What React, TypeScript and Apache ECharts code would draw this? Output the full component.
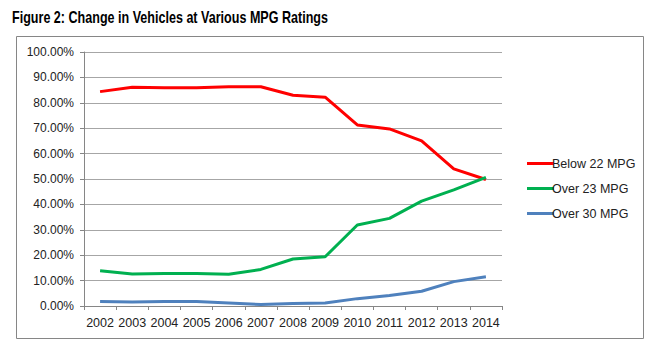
import React, { useEffect, useRef } from "react";
import * as echarts from "echarts";

const years = ["2002","2003","2004","2005","2006","2007","2008","2009","2010","2011","2012","2013","2014"];
const below22 = [0.844, 0.861, 0.859, 0.859, 0.863, 0.863, 0.830, 0.822, 0.713, 0.697, 0.650, 0.540, 0.498];
const over23 = [0.139, 0.126, 0.128, 0.128, 0.125, 0.144, 0.185, 0.194, 0.319, 0.345, 0.413, 0.457, 0.506];
const over30 = [0.018, 0.016, 0.018, 0.018, 0.012, 0.006, 0.010, 0.012, 0.029, 0.041, 0.058, 0.096, 0.115];
const seriesNames = ["Below 22 MPG", "Over 23 MPG", "Over 30 MPG"];
const colors = ["#ff0000", "#00b050", "#4f81bd"];

export default function App() {
  const ref = useRef<HTMLDivElement>(null);
  useEffect(() => {
    const chart = echarts.init(ref.current!, null, { renderer: "svg" });
    const font = "'Liberation Sans', Arial, sans-serif";
    const datas = [below22, over23, over30];
    chart.setOption({
      animation: false,
      backgroundColor: "#ffffff",
      graphic: [
        {
          type: "text",
          left: 12,
          top: 9,
          scaleX: 0.785,
          style: { text: "Figure 2: Change in Vehicles at Various MPG Ratings", font: "bold 16px " + font, fill: "#000" },
        },
        {
          type: "rect",
          shape: { x: 16.5, y: 36.5, width: 627, height: 302 },
          style: { fill: "none", stroke: "#868686", lineWidth: 1 },
        },
      ],
      grid: { left: 84, top: 52, right: 168, bottom: 49, containLabel: false },
      legend: {
        orient: "vertical",
        left: 522,
        top: 152,
        itemGap: 12,
        itemWidth: 27,
        itemHeight: 3,
        icon: "rect",
        textStyle: { fontFamily: font, fontSize: 12.5, color: "#222", padding: [0, 0, 0, -7] },
        data: seriesNames,
      },
      xAxis: {
        type: "category",
        data: years,
        boundaryGap: true,
        axisLine: { lineStyle: { color: "#868686" } },
        axisTick: { show: true, alignWithLabel: false, length: 4, lineStyle: { color: "#868686" } },
        axisLabel: { fontFamily: font, fontSize: 12.5, color: "#222", margin: 10, interval: 0 },
        splitLine: { show: false },
      },
      yAxis: {
        type: "value",
        min: 0,
        max: 1,
        interval: 0.1,
        axisLine: { show: true, lineStyle: { color: "#868686" } },
        axisTick: { show: true, length: 4, lineStyle: { color: "#868686" } },
        axisLabel: {
          fontFamily: font,
          fontSize: 12,
          color: "#222",
          margin: 10,
          formatter: (v: number) => (v * 100).toFixed(2) + "%",
        },
        splitLine: { lineStyle: { color: "#a6a6a6" } },
      },
      series: seriesNames.map((n, i) => ({
        name: n,
        type: "line",
        data: datas[i],
        symbol: "none",
        lineStyle: { color: colors[i], width: 3 },
        itemStyle: { color: colors[i] },
      })),
    });
    return () => chart.dispose();
  }, []);
  return (
    <div style={{ position: "fixed", left: 0, top: 0, width: 670, height: 355, background: "#fff" }}>
      <div ref={ref} style={{ width: 670, height: 355 }} />
    </div>
  );
}
